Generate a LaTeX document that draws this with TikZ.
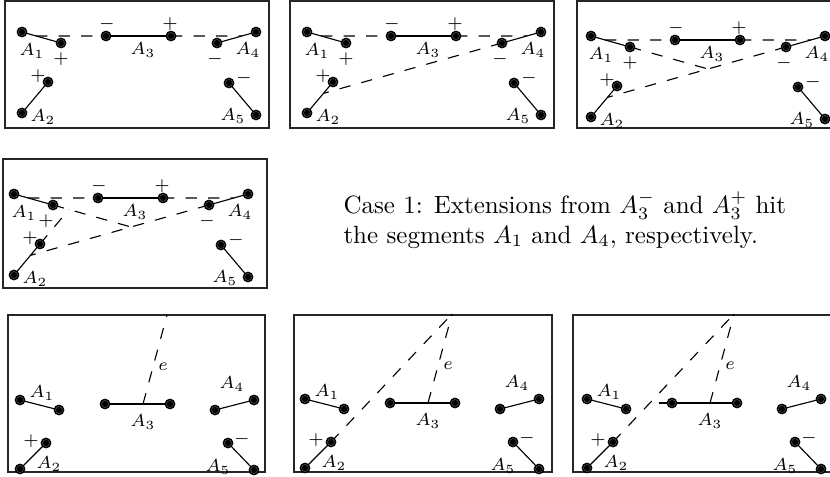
\documentclass[tikz,border=0pt]{standalone}
\usepackage{amsmath}
\usepackage{amssymb}
\usepackage{tikz}
\usetikzlibrary{
    calc
}
\tikzset{
  seg/.style={line width=0.45pt},
  ext/.style={line width=0.45pt, dash pattern=on 4.5pt off 4.5pt},
  frame/.style={line width=0.5pt, draw=black!85},
  lbl/.style={inner sep=0pt, font=\fontsize{7}{8}\selectfont},
}
\newcommand{\EndPt}[1]{%
  \filldraw[line width=0.3pt] (#1) circle (2pt);
  \draw[black!65, line width=0.2pt] (#1) circle (1.4pt);
}
% top row: #1 = extra extensions, #2 = shift of the + at A1
\newcommand{\TopScene}[2]{%
  \coordinate (a1) at (22,32);  \coordinate (b1) at (61,43);
  \coordinate (a3) at (106,36); \coordinate (b3) at (171,36);
  \coordinate (a4) at (217,43); \coordinate (b4) at (256,32);
  \coordinate (a2) at (48,82);  \coordinate (b2) at (22,113);
  \coordinate (a5) at (229,83); \coordinate (b5) at (256,115);
  \draw[ext] (intersection of a1--b1 and a3--b3) -- (a3);
  \draw[ext] (b3) -- (intersection of a3--b3 and a4--b4);
  #1
  \foreach \s in {1,...,5} {\draw[seg] (a\s) -- (b\s);}
  \foreach \s in {1,...,5} {\EndPt{a\s}\EndPt{b\s}}
  \node[lbl] (lA1) at ($(a1)+(10,19)$) {$A_1$};
  \node[lbl] (pA1) at ($(b1)+(#2,16)$) {$+$};
  \node[lbl] (mA3) at ($(a3)+(1,-12)$) {$-$};
  \node[lbl] (pA3) at ($(b3)+(-1,-12)$) {$+$};
  \node[lbl] (lA3) at ($(a3)+(37,14)$) {$A_3$};
  \node[lbl] (mA4) at ($(a4)+(-2,16)$) {$-$};
  \node[lbl] (lA4) at ($(b4)+(-8,18)$) {$A_4$};
  \node[lbl] (pA2) at ($(a2)+(-10,-6)$) {$+$};
  \node[lbl] (lA2) at ($(b2)+(21,4)$) {$A_2$};
  \node[lbl] (mA5) at ($(a5)+(15,-5)$) {$-$};
  \node[lbl] (lA5) at ($(b5)+(-23,1)$) {$A_5$};
}
% bottom row, with the segment e
\newcommand{\BotScene}[1]{%
  \coordinate (a1) at (20,400);  \coordinate (b1) at (59,410);
  \coordinate (a3) at (105,404); \coordinate (b3) at (170,404);
  \coordinate (a4) at (215,410); \coordinate (b4) at (254,400);
  \coordinate (a2) at (46,443);  \coordinate (b2) at (20,469);
  \coordinate (a5) at (228,443); \coordinate (b5) at (254,470);
  \coordinate (eb) at (143,404); \coordinate (et) at (167,315);
  \draw[ext] (eb) -- (et);
  \foreach \s in {1,...,5} {\draw[seg] (a\s) -- (b\s);}
  #1
  \foreach \s in {1,...,5} {\EndPt{a\s}\EndPt{b\s}}
  \node[lbl] (lA1) at ($(a1)+(22,-7)$) {$A_1$};
  \node[lbl] (lA3) at ($(a3)+(38,18)$) {$A_3$};
  \node[lbl] (lA4) at ($(b4)+(-22,-16)$) {$A_4$};
  \node[lbl] (pA2) at ($(a2)+(-15,-2)$) {$+$};
  \node[lbl] (lA2) at ($(b2)+(29,-5)$) {$A_2$};
  \node[lbl] (mA5) at ($(a5)+(14,-4)$) {$-$};
  \node[lbl] (lA5) at ($(b5)+(-36,-3)$) {$A_5$};
  \node[lbl] (le) at ($(eb)!0.42!(et)+(10,0)$) {$e$};
}

\begin{document}
\begin{tikzpicture}[x=0.4pt, y=-0.4pt]
\clip (0,0) rectangle (830,477);

% case 1, four steps
\draw[frame] (5,1) rectangle (269,128);
\TopScene{}{0}

\draw[frame] (290,1) rectangle (554,128);
\begin{scope}[shift={(285,0)}]
\TopScene{\draw[ext] (a4) -- (intersection of a4--b4 and a2--b2);}{0}
\end{scope}

\draw[frame] (577,1) rectangle (841,128);
\begin{scope}[shift={(569,4)}]
\TopScene{%
  \draw[ext] (a4) -- (intersection of a4--b4 and a2--b2);
  \draw[ext] (b1) -- (intersection of a1--b1 and a4--b4);}{0}
\end{scope}

\draw[frame] (3,159) rectangle (267,288);
\begin{scope}[shift={(-8,162)}]
\TopScene{%
  \draw[ext] (a4) -- (intersection of a4--b4 and a2--b2);
  \draw[ext] (b1) -- (intersection of a1--b1 and a4--b4);
  \draw[ext] (a2) -- (intersection of a2--b2 and a1--b1);}{-7}
\end{scope}

\node[font=\fontsize{10}{12}\selectfont, align=left, anchor=north west,
      inner sep=0pt] (cap) at (343,191)
  {Case 1: Extensions from $A_3^-$ and $A_3^+$ hit\\
   the segments $A_1$ and $A_4$, respectively.};

% the segment e
\draw[frame] (8,315) rectangle (265,472);
\BotScene{}

\draw[frame] (294,315) rectangle (552,472);
\begin{scope}[shift={(285,-1)}]
\BotScene{\draw[ext] (a2) -- (et);}
\end{scope}

\draw[frame] (573,315) rectangle (841,472);
\begin{scope}[shift={(567,-1)}]
\BotScene{%
  \draw[ext] (a2) -- (et);
  \coordinate (c3) at ($(a3)+(-13,0)$);
  \draw[ext, line width=0.7pt] (c3) -- (eb);}
\end{scope}
\end{tikzpicture}
\end{document}
